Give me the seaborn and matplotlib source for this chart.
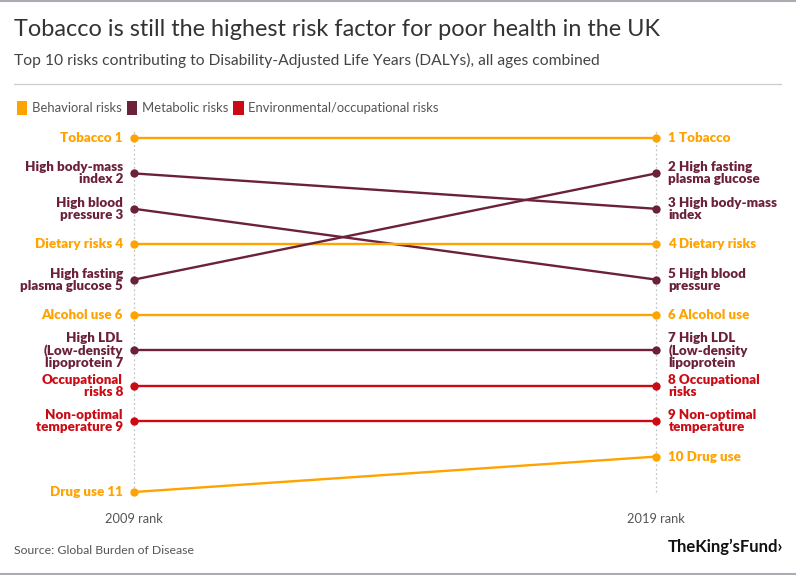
import pandas as pd
import matplotlib.pyplot as plt
import seaborn as sns
from matplotlib.patches import Patch
from matplotlib.lines import Line2D

# data
risks = ['Tobacco', 'High body-mass index', 'High blood pressure', 'Dietary risks',
         'High fasting plasma glucose', 'Alcohol use', 'High LDL', 'Occupational risks',
         'Non-optimal temperature', 'Drug use']
categories = ['Behavioral risks', 'Metabolic risks', 'Metabolic risks', 'Behavioral risks',
              'Metabolic risks', 'Behavioral risks', 'Metabolic risks',
              'Environmental/occupational risks', 'Environmental/occupational risks',
              'Behavioral risks']
rank_2009 = [1, 2, 3, 4, 5, 6, 7, 8, 9, 11]
rank_2019 = [1, 3, 5, 4, 2, 6, 7, 8, 9, 10]
labels_2009 = ['Tobacco 1', 'High body-mass\nindex 2', 'High blood\npressure 3', 'Dietary risks 4',
               'High fasting\nplasma glucose 5', 'Alcohol use 6',
               'High LDL\n(Low-density\nlipoprotein 7', 'Occupational\nrisks 8',
               'Non-optimal\ntemperature 9', 'Drug use 11']
labels_2019 = ['1 Tobacco', '3 High body-mass\nindex', '5 High blood\npressure', '4 Dietary risks',
               '2 High fasting\nplasma glucose', '6 Alcohol use',
               '7 High LDL\n(Low-density\nlipoprotein', '8 Occupational\nrisks',
               '9 Non-optimal\ntemperature', '10 Drug use']
years = [2009, 2019]
category_colors = {'Behavioral risks': '#FFA300',
                   'Metabolic risks': '#6B2139',
                   'Environmental/occupational risks': '#CC0A14'}

rows = []
for r, c, a, b in zip(risks, categories, rank_2009, rank_2019):
    rows.append({'risk': r, 'category': c, 'year': years[0], 'rank': a})
    rows.append({'risk': r, 'category': c, 'year': years[1], 'rank': b})
df = pd.DataFrame(rows)
risk_palette = {r: category_colors[c] for r, c in zip(risks, categories)}

sns.set_theme(style='white')
plt.rcParams['font.family'] = ['Lato', 'DejaVu Sans']

W, H = 796, 575
fig = plt.figure(figsize=(W / 100, H / 100), dpi=100)

# axes placed so that rank 1 sits at y=138px and rank 11 at y=492px
ax = fig.add_axes([134 / W, 1 - 492 / H, (656 - 134) / W, (492 - 130) / H])
ax.set_xlim(2009, 2019)
ax.set_ylim(11, 1 - 8 / 35.4)
for y in years:
    ax.axvline(y, color='#c4c4c4', linestyle=(0, (1.5, 2)), linewidth=0.9, zorder=0)

sns.lineplot(data=df, x='year', y='rank', hue='risk', palette=risk_palette,
             estimator=None, sort=False, marker='o', markersize=6,
             markeredgewidth=0, linewidth=1.7, legend=False, ax=ax)
for ln in ax.lines:
    ln.set_clip_on(False)

for lab, rk, cat in zip(labels_2009, rank_2009, categories):
    ax.annotate(lab, (years[0], rk), xytext=(-8, 0), textcoords='offset points',
                ha='right', va='center', fontsize=9.6, fontweight='heavy',
                color=category_colors[cat], linespacing=1.0, multialignment='right')
for lab, rk, cat in zip(labels_2019, rank_2019, categories):
    ax.annotate(lab, (years[1], rk), xytext=(9, 0), textcoords='offset points',
                ha='left', va='center', fontsize=9.6, fontweight='heavy',
                color=category_colors[cat], linespacing=1.0, multialignment='left')

ax.axis('off')

# header
fig.text(14 / W, 1 - 30 / H, 'Tobacco is still the highest risk factor for poor health in the UK',
         fontsize=16.9, color='#333333', va='center', ha='left')
fig.text(14 / W, 1 - 60 / H,
         'Top 10 risks contributing to Disability-Adjusted Life Years (DALYs), all ages combined',
         fontsize=11.25, color='#444444', va='center', ha='left')
fig.add_artist(Line2D([14 / W, 781 / W], [1 - 84 / H, 1 - 84 / H], color='#cccccc', linewidth=0.9))
fig.add_artist(Line2D([0, 1], [1 - 1 / H, 1 - 1 / H], color='#a9adb3', linewidth=1.5))
fig.add_artist(Line2D([0, 1], [1 - 574 / H, 1 - 574 / H], color='#a9adb3', linewidth=1.5))

handles = [Patch(facecolor=v, edgecolor='none', label=k) for k, v in category_colors.items()]
fig.legend(handles=handles, loc='center left', bbox_to_anchor=(10 / W, 1 - 108 / H), ncol=3,
           frameon=False, handlelength=0.8, handleheight=1.2, handletextpad=0.35,
           columnspacing=0.4, borderpad=0, fontsize=9.4, labelcolor='#555555')

# axis captions and footer
fig.text(134 / W, 1 - 519 / H, '2009 rank', fontsize=9.3, color='#555555', ha='center', va='center')
fig.text(656 / W, 1 - 519 / H, '2019 rank', fontsize=9.3, color='#555555', ha='center', va='center')
fig.text(14 / W, 1 - 551 / H, 'Source: Global Burden of Disease', fontsize=8.8, color='#555555',
         ha='left', va='center')
fig.text(783 / W, 1 - 547 / H, 'TheKing\u2019sFund\u203a', fontsize=12, fontweight='bold',
         color='#111111', ha='right', va='center')

fig.savefig('out.png', dpi=100)
